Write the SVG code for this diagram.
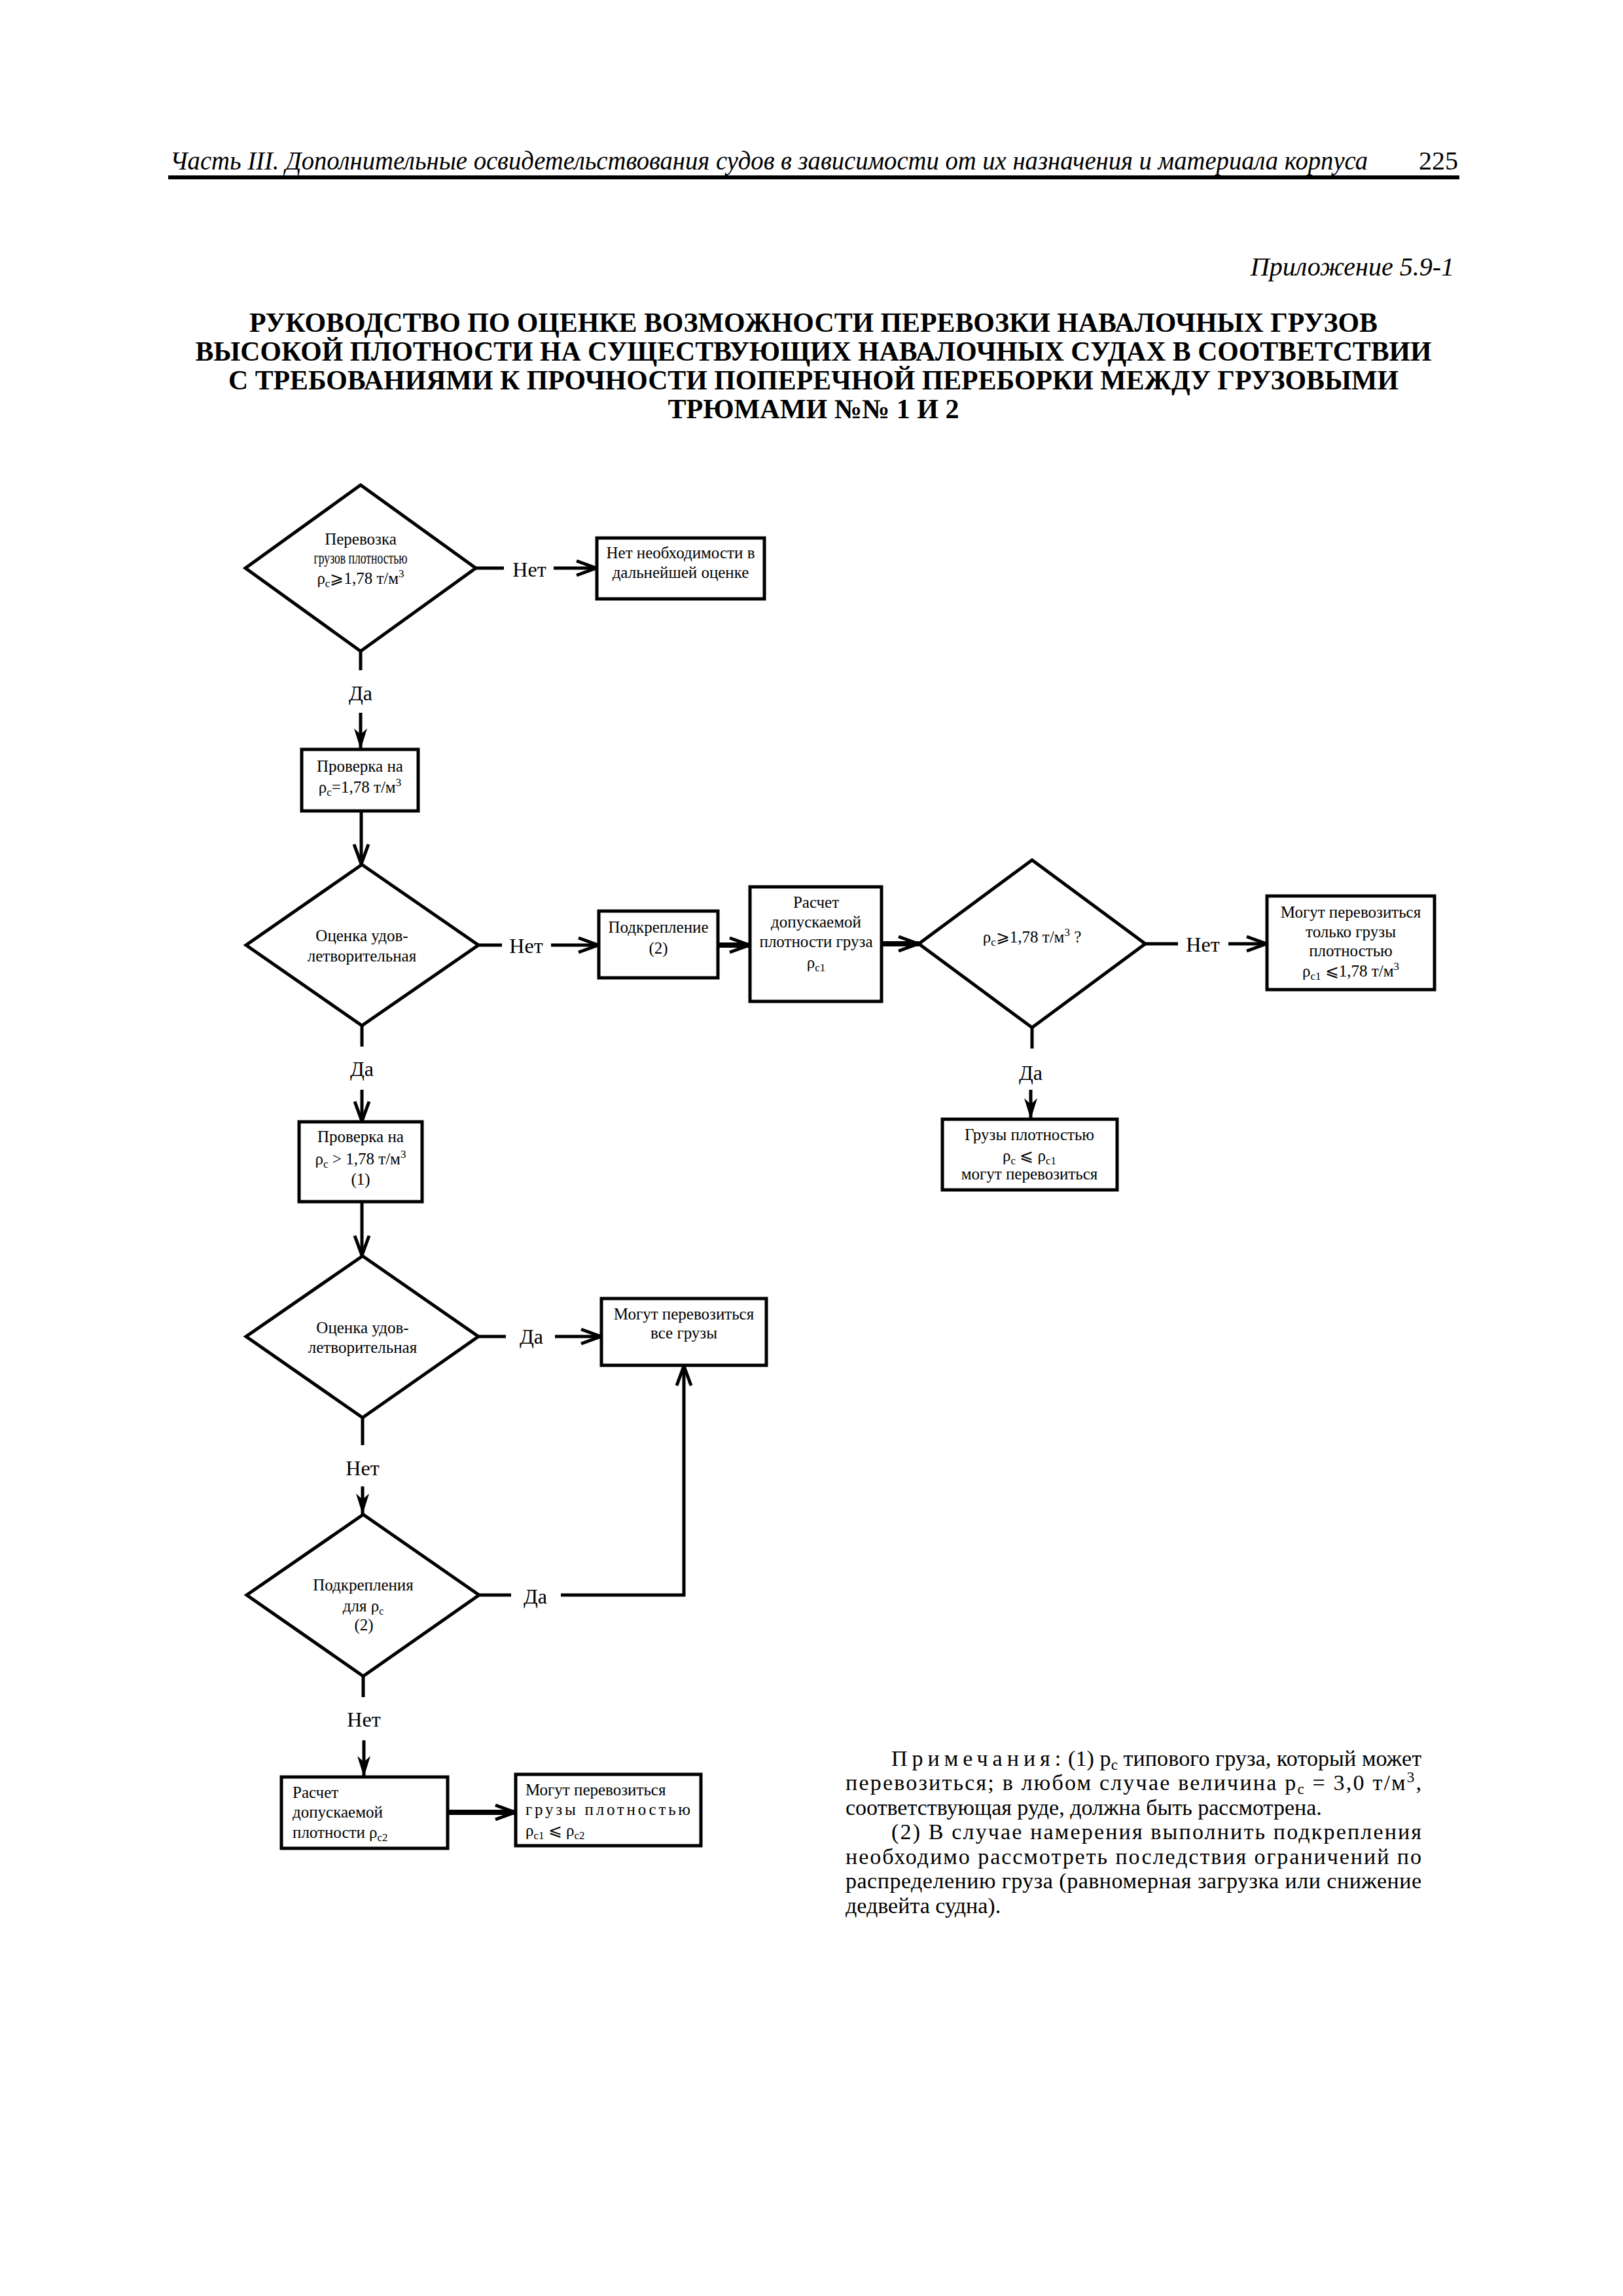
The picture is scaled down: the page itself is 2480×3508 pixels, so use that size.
<svg xmlns="http://www.w3.org/2000/svg" width="2480" height="3508" viewBox="0 0 2480 3508">
<style>
.t{font-family:"Liberation Serif","Times New Roman","DejaVu Serif",serif;fill:#000}
.n{font-size:25px;text-anchor:middle}
.nl{font-size:25px}
.lbl{font-size:32px;text-anchor:middle}
.shape{fill:#fff;stroke:#000;stroke-width:5}
.c{fill:none;stroke:#000;stroke-width:5}
.thick{stroke-width:8}
.it{font-style:italic}
.ttl{font-size:42px;font-weight:bold;text-anchor:middle}
.note{font-size:34px}
</style>
<defs>
<marker id="open" viewBox="-4 -15 40 30" refX="31" refY="0" markerWidth="40" markerHeight="30" markerUnits="userSpaceOnUse" orient="auto">
<path d="M0,-11 L30,0 L0,11" fill="none" stroke="#000" stroke-width="5"/>
</marker>
<marker id="solid" viewBox="-2 -12 36 24" refX="32" refY="0" markerWidth="36" markerHeight="24" markerUnits="userSpaceOnUse" orient="auto">
<path d="M0,-10 L32,0 L0,10 L9,0 Z" fill="#000"/>
</marker>
</defs>
<rect width="2480" height="3508" fill="#fff"/>

<g id="header">
<text class="t it" x="260" y="259" font-size="40" textLength="1830" lengthAdjust="spacingAndGlyphs">Часть III. Дополнительные освидетельствования судов в зависимости от их назначения и материала корпуса</text>
<text class="t" x="2228" y="259" font-size="40" text-anchor="end">225</text>
<line x1="257" y1="271" x2="2230" y2="271" stroke="#000" stroke-width="6"/>
<text class="t it" x="2222" y="421" font-size="40" text-anchor="end">Приложение 5.9-1</text>
</g>

<g id="title">
<text class="t ttl" x="1243" y="507" textLength="1724" lengthAdjust="spacingAndGlyphs">РУКОВОДСТВО ПО ОЦЕНКЕ ВОЗМОЖНОСТИ ПЕРЕВОЗКИ НАВАЛОЧНЫХ ГРУЗОВ</text>
<text class="t ttl" x="1243" y="551" textLength="1889" lengthAdjust="spacingAndGlyphs">ВЫСОКОЙ ПЛОТНОСТИ НА СУЩЕСТВУЮЩИХ НАВАЛОЧНЫХ СУДАХ В СООТВЕТСТВИИ</text>
<text class="t ttl" x="1243" y="595" textLength="1788" lengthAdjust="spacingAndGlyphs">С ТРЕБОВАНИЯМИ К ПРОЧНОСТИ ПОПЕРЕЧНОЙ ПЕРЕБОРКИ МЕЖДУ ГРУЗОВЫМИ</text>
<text class="t ttl" x="1243" y="639" textLength="445" lengthAdjust="spacingAndGlyphs">ТРЮМАМИ №№ 1 И 2</text>
</g>

<g id="connectors">
<line class="c" x1="727" y1="868" x2="770" y2="868"/>
<line class="c" x1="846" y1="868" x2="912" y2="868" marker-end="url(#open)"/>
<line class="c" x1="551" y1="995" x2="551" y2="1024"/>
<line class="c" x1="551" y1="1089" x2="551" y2="1145" marker-end="url(#solid)"/>
<line class="c" x1="552" y1="1239" x2="552" y2="1321" marker-end="url(#open)"/>
<line class="c" x1="731" y1="1444" x2="767" y2="1444"/>
<line class="c" x1="842" y1="1444" x2="915" y2="1444" marker-end="url(#open)"/>
<line class="c thick" x1="1097" y1="1444" x2="1146" y2="1444" marker-end="url(#open)"/>
<line class="c thick" x1="1347" y1="1442" x2="1404" y2="1442" marker-end="url(#open)"/>
<line class="c" x1="1750" y1="1442" x2="1800" y2="1442"/>
<line class="c" x1="1877" y1="1442" x2="1936" y2="1442" marker-end="url(#open)"/>
<line class="c" x1="1577" y1="1570" x2="1577" y2="1602"/>
<line class="c" x1="1575" y1="1665" x2="1575" y2="1710" marker-end="url(#solid)"/>
<line class="c" x1="553" y1="1567" x2="553" y2="1599"/>
<line class="c" x1="553" y1="1665" x2="553" y2="1714" marker-end="url(#open)"/>
<line class="c" x1="553" y1="1836" x2="553" y2="1919" marker-end="url(#open)"/>
<line class="c" x1="731" y1="2042" x2="773" y2="2042"/>
<line class="c" x1="848" y1="2042" x2="919" y2="2042" marker-end="url(#open)"/>
<line class="c" x1="554" y1="2166" x2="554" y2="2208"/>
<line class="c" x1="554" y1="2271" x2="554" y2="2314" marker-end="url(#solid)"/>
<line class="c" x1="732" y1="2437" x2="781" y2="2437"/>
<path class="c" d="M857,2437 H1045 V2086" marker-end="url(#open)"/>
<line class="c" x1="555" y1="2561" x2="555" y2="2593"/>
<line class="c" x1="556" y1="2659" x2="556" y2="2715" marker-end="url(#solid)"/>
<line class="c thick" x1="684" y1="2769" x2="788" y2="2769" marker-end="url(#open)"/>
<text class="t lbl" x="809" y="881">Нет</text>
<text class="t lbl" x="551" y="1070">Да</text>
<text class="t lbl" x="804" y="1456">Нет</text>
<text class="t lbl" x="1838" y="1454">Нет</text>
<text class="t lbl" x="1575" y="1650">Да</text>
<text class="t lbl" x="553" y="1644">Да</text>
<text class="t lbl" x="812" y="2053">Да</text>
<text class="t lbl" x="554" y="2254">Нет</text>
<text class="t lbl" x="818" y="2450">Да</text>
<text class="t lbl" x="556" y="2638">Нет</text>
</g>

<g id="d1">
<polygon class="shape" points="551,741 727,868 551,995 375,868"/>
<text class="t n" x="551" y="832">Перевозка</text>
<text class="t n" x="551" y="861" font-size="20" textLength="143" lengthAdjust="spacingAndGlyphs">грузов  плотностью</text>
<text class="t n" x="551" y="892">ρ<tspan font-size="17" dy="5">c</tspan><tspan dy="-5">⩾1,78 т/м</tspan><tspan font-size="17" dy="-10">3</tspan></text>
</g>

<g id="b1">
<rect class="shape" x="912" y="822" width="256" height="93"/>
<text class="t n" x="1040" y="853">Нет необходимости в</text>
<text class="t n" x="1040" y="883">дальнейшей оценке</text>
</g>

<g id="b2">
<rect class="shape" x="461" y="1145" width="178" height="94"/>
<text class="t n" x="550" y="1179">Проверка на</text>
<text class="t n" x="550" y="1211">ρ<tspan font-size="17" dy="5">c</tspan><tspan dy="-5">=1,78 т/м</tspan><tspan font-size="17" dy="-10">3</tspan></text>
</g>

<g id="d2">
<polygon class="shape" points="553,1321 731,1444 553,1567 376,1444"/>
<text class="t n" x="553" y="1438">Оценка удов-</text>
<text class="t n" x="553" y="1469">летворительная</text>
</g>

<g id="b3">
<rect class="shape" x="915" y="1392" width="182" height="102"/>
<text class="t n" x="1006" y="1425">Подкрепление</text>
<text class="t n" x="1006" y="1457">(2)</text>
</g>

<g id="b4">
<rect class="shape" x="1146" y="1355" width="201" height="175"/>
<text class="t n" x="1247" y="1387">Расчет</text>
<text class="t n" x="1247" y="1417">допускаемой</text>
<text class="t n" x="1247" y="1447">плотности груза</text>
<text class="t n" x="1247" y="1479">ρ<tspan font-size="17" dy="5">c1</tspan></text>
</g>

<g id="d3">
<polygon class="shape" points="1577,1314 1750,1442 1577,1570 1404,1442"/>
<text class="t n" x="1577" y="1440">ρ<tspan font-size="17" dy="5">c</tspan><tspan dy="-5">⩾1,78 т/м</tspan><tspan font-size="17" dy="-10">3</tspan><tspan dy="10"> ?</tspan></text>
</g>

<g id="b5">
<rect class="shape" x="1936" y="1369" width="256" height="143"/>
<text class="t n" x="2064" y="1402">Могут перевозиться</text>
<text class="t n" x="2064" y="1432">только грузы</text>
<text class="t n" x="2064" y="1461">плотностью</text>
<text class="t n" x="2064" y="1492">ρ<tspan font-size="17" dy="5">c1</tspan><tspan dy="-5"> ⩽1,78 т/м</tspan><tspan font-size="17" dy="-10">3</tspan></text>
</g>

<g id="b6">
<rect class="shape" x="1440" y="1710" width="267" height="108"/>
<text class="t n" x="1573" y="1742">Грузы плотностью</text>
<text class="t n" x="1573" y="1774">ρ<tspan font-size="17" dy="5">c</tspan><tspan dy="-5"> ⩽ ρ</tspan><tspan font-size="17" dy="5">c1</tspan></text>
<text class="t n" x="1573" y="1802">могут перевозиться</text>
</g>

<g id="b7">
<rect class="shape" x="457" y="1714" width="188" height="122"/>
<text class="t n" x="551" y="1745">Проверка на</text>
<text class="t n" x="551" y="1779">ρ<tspan font-size="17" dy="5">c</tspan><tspan dy="-5"> &gt; 1,78 т/м</tspan><tspan font-size="17" dy="-10">3</tspan></text>
<text class="t n" x="551" y="1810">(1)</text>
</g>

<g id="d4">
<polygon class="shape" points="554,1919 731,2042 554,2166 376,2042"/>
<text class="t n" x="554" y="2037">Оценка удов-</text>
<text class="t n" x="554" y="2067">летворительная</text>
</g>

<g id="b8">
<rect class="shape" x="919" y="1984" width="252" height="102"/>
<text class="t n" x="1045" y="2016">Могут перевозиться</text>
<text class="t n" x="1045" y="2045">все грузы</text>
</g>

<g id="d5">
<polygon class="shape" points="555,2314 732,2437 555,2561 377,2437"/>
<text class="t n" x="555" y="2430" font-size="23">Подкрепления</text>
<text class="t n" x="555" y="2462" font-size="23">для  ρ<tspan font-size="16" dy="5">c</tspan></text>
<text class="t n" x="556" y="2491" font-size="23">(2)</text>
</g>

<g id="b9">
<rect class="shape" x="430" y="2715" width="254" height="109"/>
<text class="t nl" x="447" y="2747">Расчет</text>
<text class="t nl" x="447" y="2777">допускаемой</text>
<text class="t nl" x="447" y="2808">плотности ρ<tspan font-size="17" dy="5">c2</tspan></text>
</g>

<g id="b10">
<rect class="shape" x="788" y="2711" width="283" height="109"/>
<text class="t nl" x="803" y="2743">Могут перевозиться</text>
<text class="t nl" x="803" y="2773" textLength="252" lengthAdjust="spacing">грузы плотностью</text>
<text class="t nl" x="803" y="2805">ρ<tspan font-size="17" dy="5">c1</tspan><tspan dy="-5"> ⩽ ρ</tspan><tspan font-size="17" dy="5">c2</tspan></text>
</g>

<g id="notes">
<text class="t note" x="1362" y="2698" letter-spacing="7">Примечания:</text>
<text class="t note" x="1632" y="2698" textLength="540" lengthAdjust="spacing">(1) р<tspan font-size="23" dy="6">c</tspan><tspan dy="-6"> типового груза, который может</tspan></text>
<text class="t note" x="1292" y="2735" textLength="880" lengthAdjust="spacing">перевозиться; в любом случае величина р<tspan font-size="23" dy="6">c</tspan><tspan dy="-6"> = 3,0 т/м</tspan><tspan font-size="23" dy="-12">3</tspan><tspan dy="12">,</tspan></text>
<text class="t note" x="1292" y="2773">соответствующая руде, должна быть рассмотрена.</text>
<text class="t note" x="1362" y="2810" textLength="810" lengthAdjust="spacing">(2) В случае намерения выполнить  подкрепления</text>
<text class="t note" x="1292" y="2848" textLength="880" lengthAdjust="spacing">необходимо рассмотреть последствия ограничений по</text>
<text class="t note" x="1292" y="2885" textLength="880" lengthAdjust="spacing">распределению груза (равномерная загрузка или снижение</text>
<text class="t note" x="1292" y="2923">дедвейта судна).</text>
</g>
</svg>
